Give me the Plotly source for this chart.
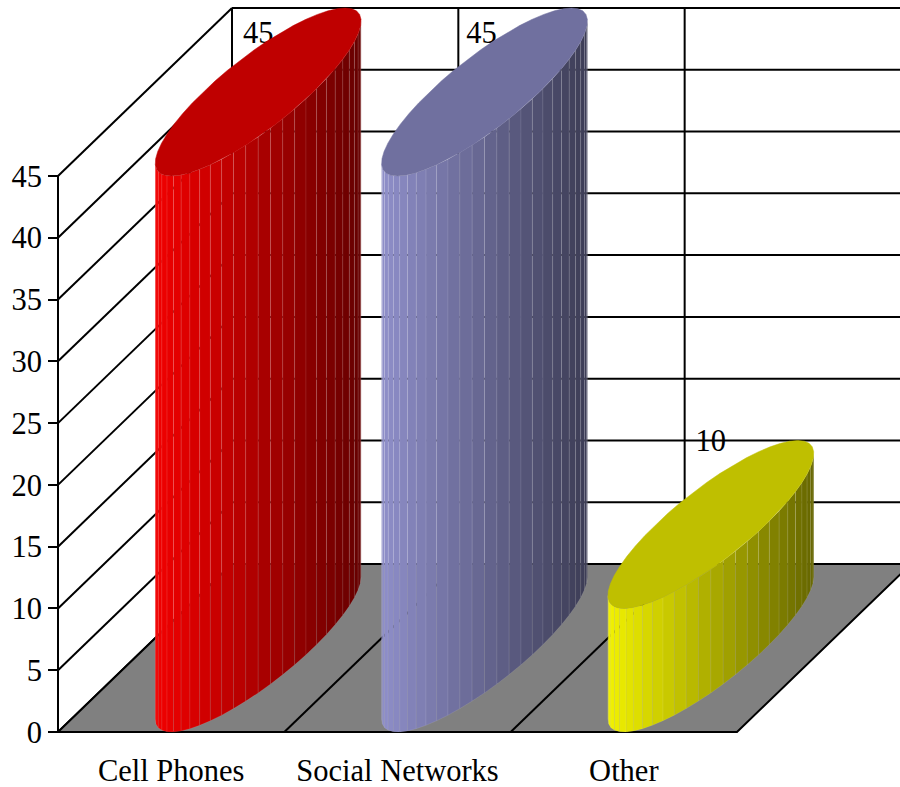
import numpy as np
import plotly.graph_objects as go

categories = ["Cell Phones", "Social Networks", "Other"]
values = [45, 45, 10]
base_colors = [(255, 0, 0), (150, 150, 212), (255, 255, 0)]
y_ticks = [0, 5, 10, 15, 20, 25, 30, 35, 40, 45]

W, H = 900, 787
X0, Y0 = 58, 732          # pixel position of the front-left axis origin
CAT_PX = 226.33           # pixels per category
VAL_PX = 556 / 45         # pixels per value unit
DX = 174 / CAT_PX         # oblique depth offset, category units
DY = 168 / VAL_PX         # oblique depth offset, value units
RADIUS = 55 / CAT_PX      # cylinder radius along the category axis
N_CAT = len(categories)
FONT = dict(family="Liberation Serif", size=30.5, color="black")
LW = 2


def proj(c, v, d):
    return c + d * DX, v + d * DY


def ring(i, v, t):
    cx, cy = proj(i + 0.5 + RADIUS * np.cos(t), v, 0.5 + 0.5 * np.sin(t))
    return cx, cy


fig = go.Figure()


def poly(xs, ys, fill=None, line="black", lw=LW):
    fig.add_trace(go.Scatter(
        x=list(xs), y=list(ys), mode="lines",
        line=dict(color=line, width=lw),
        fill="toself" if fill else None, fillcolor=fill,
        hoverinfo="skip", showlegend=False))


# walls
for v in y_ticks:
    x1, y1 = proj(0, v, 1)
    poly([0, x1], [v, y1])
    x2, y2 = proj(N_CAT, v, 1)
    poly([x1, x2], [y1, y2])
for c in range(N_CAT + 1):
    xa, ya = proj(c, 0, 1)
    xb, yb = proj(c, y_ticks[-1], 1)
    poly([xa, xb], [ya, yb])
poly([0, 0], [0, y_ticks[-1]])

# floor
fx, fy = zip(*[proj(0, 0, 0), proj(N_CAT, 0, 0), proj(N_CAT, 0, 1), proj(0, 0, 1), proj(0, 0, 0)])
poly(fx, fy, fill="#808080")
for c in range(1, N_CAT):
    xa, ya = proj(c, 0, 0)
    xb, yb = proj(c, 0, 1)
    poly([xa, xb], [ya, yb])

# value labels sit behind the cylinders
label_x, label_y = [], []
for i, v in enumerate(values):
    lx, ly = proj(i + 0.5, v, 0.5)
    label_x.append(lx - (3 / CAT_PX if i == 1 else 0))
    label_y.append(min(ly + 81 / VAL_PX, y_ticks[-1] + DY - 27 / VAL_PX))
fig.add_trace(go.Scatter(
    x=label_x, y=label_y, mode="text", text=[str(v) for v in values],
    textposition="middle center", textfont=FONT, hoverinfo="skip", showlegend=False))

# cylinders
a = RADIUS * CAT_PX
b = 0.5 * DX * CAT_PX
phi = np.arctan2(b, a)
N_STRIPS = 26
for i, (v, col) in enumerate(zip(values, base_colors)):
    ts = np.linspace(phi + np.pi, phi + 2 * np.pi, N_STRIPS + 1)
    xs, _ = ring(i, v, ts)
    xmin, xmax = xs.min(), xs.max()
    for k in range(N_STRIPS):
        mid = 0.5 * (xs[k] + xs[k + 1])
        f = 0.95 - 0.55 * (mid - xmin) / (xmax - xmin)
        c = tuple(int(round(ch * f)) for ch in col)
        x0, y0 = ring(i, 0, ts[k])
        x1, y1 = ring(i, 0, ts[k + 1])
        x2, y2 = ring(i, v, ts[k + 1])
        x3, y3 = ring(i, v, ts[k])
        poly([x0, x1, x2, x3, x0], [y0, y1, y2, y3, y0],
             fill=f"rgb{c}", line="rgba(255,255,255,0.14)", lw=0.6)
    tt = np.linspace(0, 2 * np.pi, 49)
    ex, ey = ring(i, v, tt)
    top = f"rgb{tuple(int(round(ch * 0.75)) for ch in col)}"
    poly(ex, ey, fill=top, line=top, lw=0.5)

fig.update_layout(
    width=W, height=H, margin=dict(l=0, r=0, t=0, b=0, pad=0, autoexpand=False),
    paper_bgcolor="white", plot_bgcolor="white", font=FONT,
    xaxis=dict(
        domain=[0, 1], range=[-X0 / CAT_PX, (W - X0) / CAT_PX],
        tickmode="array", tickvals=[i + 0.5 for i in range(N_CAT)], ticktext=categories,
        showgrid=False, zeroline=False, showline=False, ticks="", automargin=False,
        anchor="free", position=(H - Y0) / H, ticklabelstandoff=17, tickfont=FONT),
    yaxis=dict(
        domain=[0, 1], range=[-(H - Y0) / VAL_PX, Y0 / VAL_PX],
        tickmode="array", tickvals=y_ticks,
        showgrid=False, zeroline=False, showline=False, automargin=False,
        ticks="outside", ticklen=10, tickwidth=LW, tickcolor="black",
        anchor="free", position=X0 / W, tickfont=FONT),
)

fig.write_html("out.html", config=dict(displayModeBar=False),
               post_script="document.body.style.margin='0';document.documentElement.style.overflow='hidden';")
